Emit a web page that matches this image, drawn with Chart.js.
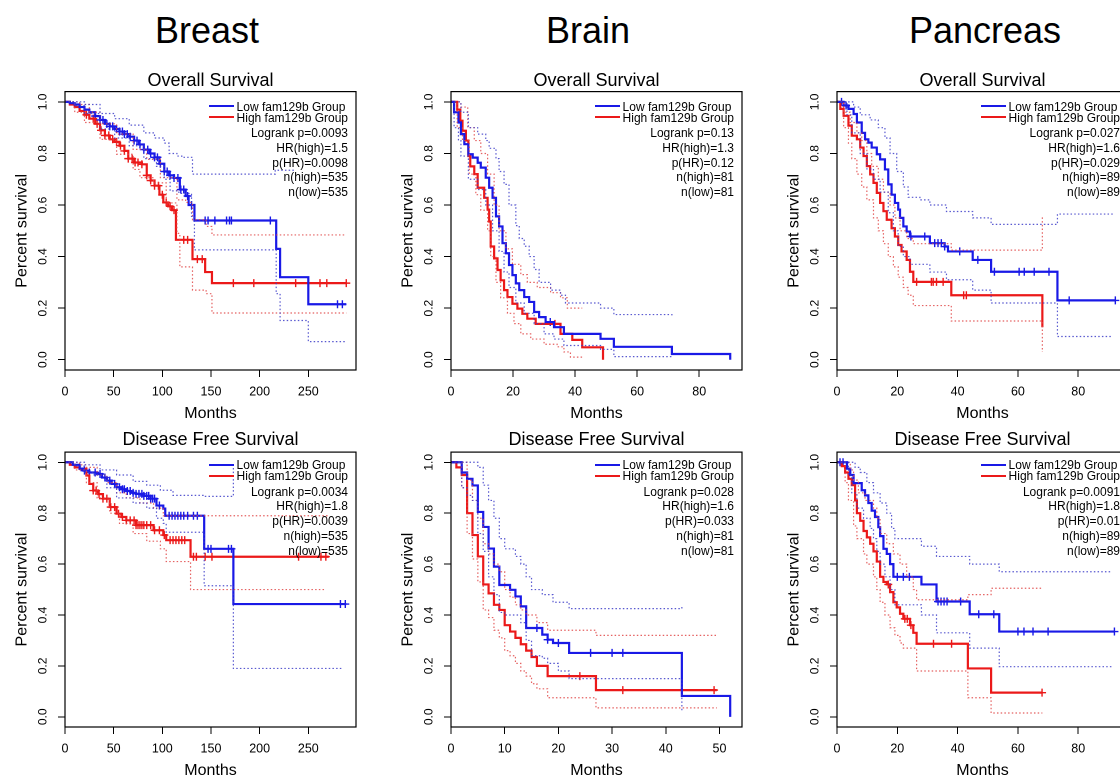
<!DOCTYPE html>
<html>
<head>
<meta charset="utf-8">
<script src="https://cdn.jsdelivr.net/npm/chart.js@4.4.1/dist/chart.umd.min.js"></script>
<style>
html,body{margin:0;padding:0;width:1120px;height:780px;overflow:hidden;background:#fff;}
#stage{position:absolute;left:0;top:0;width:1120px;height:780px;overflow:hidden;font-family:"Liberation Sans",Arial,Helvetica,sans-serif;color:#000;}
.hdr{position:absolute;font-size:36px;line-height:36px;height:36px;white-space:nowrap;transform:translateX(-50%);}
.pnl{position:absolute;}
.pnl canvas{display:block;}
.leg{position:absolute;width:220px;text-align:right;font-size:12px;white-space:nowrap;}
.leg .lg{display:inline-block;text-align:left;}
.leg .lr{height:11px;line-height:11px;}
.leg .sw{display:inline-block;width:25px;height:2px;vertical-align:middle;margin-right:3px;position:relative;top:-1px;}
.leg .st{height:14.75px;line-height:14.75px;}
</style>
</head>
<body>
<div id="stage"></div>
<script>
// ---------------- DATA ----------------
const cancerTypes = ['Breast', 'Brain', 'Pancreas'];
const panelTitles = ['Overall Survival', 'Disease Free Survival'];
const legendLabels = ['Low fam129b Group', 'High fam129b Group'];
const xAxisLabel = 'Months';
const yAxisLabel = 'Percent survival';
const yTicks = [0, 0.2, 0.4, 0.6, 0.8, 1.0];
const breastTicks = [0, 50, 100, 150, 200, 250];
const brainOSTicks = [0, 20, 40, 60, 80];
const brainDFSTicks = [0, 10, 20, 30, 40, 50];
const pancreasTicks = [0, 20, 40, 60, 80];
const xMaxBreast = 299, xMaxBrainOS = 93.8, xMaxBrainDFS = 54.2, xMaxPancreas = 96.5;

const statsBreastOS = ['Logrank p=0.0093', 'HR(high)=1.5', 'p(HR)=0.0098', 'n(high)=535', 'n(low)=535'];
const statsBrainOS = ['Logrank p=0.13', 'HR(high)=1.3', 'p(HR)=0.12', 'n(high)=81', 'n(low)=81'];
const statsPancreasOS = ['Logrank p=0.027', 'HR(high)=1.6', 'p(HR)=0.029', 'n(high)=89', 'n(low)=89'];
const statsBreastDFS = ['Logrank p=0.0034', 'HR(high)=1.8', 'p(HR)=0.0039', 'n(high)=535', 'n(low)=535'];
const statsBrainDFS = ['Logrank p=0.028', 'HR(high)=1.6', 'p(HR)=0.033', 'n(high)=81', 'n(low)=81'];
const statsPancreasDFS = ['Logrank p=0.0091', 'HR(high)=1.8', 'p(HR)=0.01', 'n(high)=89', 'n(low)=89'];

// Breast – overall survival  [month, survival]
const breastOS_low = [[0,1],[5,0.995],[10,0.99],[15,0.98],[20,0.97],[25,0.96],[31,0.945],[36,0.93],[41,0.915],[46,0.905],[51,0.895],[56,0.885],[61,0.875],[66,0.865],[71,0.85],[76,0.835],[81,0.815],[87,0.8],[92,0.785],[97,0.76],[102,0.73],[107,0.715],[112,0.705],[118,0.66],[124,0.635],[127,0.6],[133,0.54],[217,0.43],[221,0.32],[250,0.215],[289,0.215]];
const breastOS_high = [[0,1],[5,0.99],[10,0.98],[15,0.965],[20,0.95],[25,0.935],[31,0.915],[36,0.89],[41,0.87],[46,0.855],[51,0.845],[56,0.83],[61,0.81],[65,0.78],[71,0.765],[79,0.758],[84,0.715],[88,0.695],[92,0.675],[97,0.64],[101,0.61],[106,0.595],[110,0.58],[114,0.465],[131,0.39],[144,0.34],[151,0.297],[289,0.297]];
const breastOS_lowUp = [[0,1],[20,0.99],[36,0.955],[51,0.935],[66,0.91],[81,0.88],[92,0.86],[102,0.84],[107,0.8],[115,0.79],[120,0.785],[131,0.72],[216,0.735],[236,0.735]];
const breastOS_lowDn = [[0,1],[10,0.985],[20,0.955],[36,0.895],[51,0.86],[66,0.83],[81,0.78],[94,0.75],[102,0.7],[108,0.655],[117,0.645],[130,0.556],[133,0.426],[217,0.256],[221,0.152],[250,0.07],[289,0.07]];
const breastOS_highUp = [[0,1],[15,0.99],[25,0.96],[36,0.915],[53,0.875],[70,0.816],[84,0.777],[98,0.706],[115,0.62],[124,0.61],[131,0.543],[145,0.517],[151,0.484],[289,0.484]];
const breastOS_highDn = [[0,1],[10,0.96],[20,0.92],[36,0.855],[53,0.797],[70,0.738],[77,0.706],[91,0.686],[104,0.608],[115,0.49],[118,0.36],[131,0.27],[145,0.256],[151,0.181],[289,0.181]];
const breastOS_lowCens = [31,36,39,43,46,49,53,56,59,61,64,67,71,74,77,81,85,88,92,95,98,102,105,108,112,116,119,122,126,130,144,147,154,166,169,171,211,280,285];
const breastOS_highCens = [22,29,33,37,41,45,49,53,57,61,65,69,72,75,79,84,88,92,96,100,104,108,112,122,126,136,141,173,194,237,262,269,289];

// Breast – disease free survival
const breastDFS_low = [[0,1],[8,0.99],[15,0.975],[19,0.967],[25,0.96],[33,0.954],[38,0.94],[43,0.928],[48,0.915],[53,0.902],[58,0.894],[63,0.887],[68,0.88],[73,0.876],[81,0.868],[88,0.857],[94,0.83],[101,0.818],[103,0.79],[143,0.66],[173,0.443],[289,0.443]];
const breastDFS_high = [[0,1],[5,0.99],[10,0.98],[15,0.974],[22,0.948],[25,0.915],[29,0.889],[34,0.875],[39,0.857],[46,0.824],[53,0.798],[58,0.785],[63,0.772],[73,0.753],[91,0.733],[101,0.714],[104,0.694],[129,0.629],[271,0.629]];
const breastDFS_lowUp = [[0,1],[20,0.99],[36,0.97],[53,0.95],[70,0.925],[84,0.91],[98,0.89],[111,0.87],[143,0.866],[173,1.0]];
const breastDFS_lowDn = [[0,1],[10,0.985],[20,0.96],[30,0.95],[43,0.9],[53,0.86],[70,0.84],[84,0.82],[94,0.78],[101,0.76],[104,0.725],[143,0.515],[173,0.19],[286,0.19]];
const breastDFS_highUp = [[0,1],[15,0.99],[22,0.98],[33,0.95],[43,0.92],[53,0.88],[63,0.86],[77,0.84],[91,0.82],[101,0.79],[270,0.79]];
const breastDFS_highDn = [[0,1],[10,0.97],[22,0.92],[33,0.86],[46,0.8],[56,0.76],[70,0.72],[84,0.69],[98,0.66],[104,0.61],[129,0.5],[267,0.5]];
const breastDFS_lowCens = [20,25,31,36,41,46,51,56,59,61,64,67,70,73,76,79,81,84,86,88,90,92,97,107,110,113,116,119,122,126,132,136,147,150,168,171,283,288];
const breastDFS_highCens = [29,32,35,39,43,47,51,55,59,63,67,71,73,75,77,79,81,84,88,92,97,102,108,111,114,117,120,123,132,135,144,151,240,263,268];

// Brain – overall survival
const brainOS_low = [[0,1],[1,0.96],[2.4,0.92],[3.2,0.875],[4.3,0.836],[5.6,0.797],[7,0.784],[8.6,0.764],[9.6,0.745],[11.2,0.706],[12.3,0.667],[13.4,0.628],[14.5,0.556],[15.5,0.517],[16.6,0.452],[17.7,0.413],[18.7,0.367],[19.8,0.328],[20.9,0.296],[22,0.27],[23.6,0.243],[25.2,0.224],[26.8,0.185],[28.4,0.165],[30.5,0.146],[33.2,0.126],[36.4,0.1],[48.2,0.081],[52.5,0.05],[71.2,0.022],[90,0]];
const brainOS_high = [[0,1],[2,0.97],[3,0.927],[3.7,0.888],[4.8,0.85],[5.6,0.79],[6.2,0.75],[7.5,0.72],[8.6,0.667],[10.7,0.628],[11.8,0.582],[12.3,0.536],[12.8,0.439],[13.9,0.393],[15,0.348],[16,0.308],[17.1,0.27],[18.2,0.243],[19.8,0.217],[21.4,0.198],[23,0.178],[24.6,0.159],[27.3,0.139],[35.3,0.1],[39.1,0.077],[42.3,0.048],[49,0]];
const brainOS_lowUp = [[0,1],[3.2,0.96],[5.6,0.9],[8.6,0.875],[11.2,0.85],[12.3,0.82],[14.5,0.78],[15.5,0.73],[17.1,0.68],[18.7,0.6],[20.9,0.52],[22,0.47],[23.6,0.44],[25.2,0.4],[26.8,0.35],[28.4,0.3],[32.1,0.27],[35.3,0.25],[36.9,0.22],[48.2,0.2],[52.5,0.175],[71.2,0.17]];
const brainOS_lowDn = [[0,1],[1,0.9],[2.4,0.85],[3.2,0.79],[5.6,0.7],[8.6,0.66],[11.2,0.6],[13.4,0.5],[15.5,0.42],[17.1,0.34],[18.7,0.28],[20.9,0.22],[23.6,0.18],[26.8,0.14],[30,0.1],[33.2,0.08],[36.4,0.055],[48.2,0.04],[52.5,0.012],[71.2,0.012]];
const brainOS_highUp = [[0,1],[3.2,0.98],[5.4,0.9],[7.5,0.85],[9.6,0.8],[11.8,0.72],[13.9,0.6],[15.5,0.5],[17.7,0.43],[19.8,0.37],[22.5,0.33],[24.6,0.3],[27.8,0.28],[32.1,0.26],[35.3,0.24],[37.5,0.2],[42.3,0.2]];
const brainOS_highDn = [[0,1],[2,0.9],[3.7,0.85],[5.9,0.72],[8,0.64],[9.6,0.58],[11.8,0.5],[12.8,0.4],[14.5,0.3],[16,0.24],[18.2,0.18],[20.3,0.14],[22.5,0.1],[25.7,0.08],[30,0.06],[34.2,0.05],[36.4,0.03],[38.5,0.01],[42.3,0.01]];
const brainOS_lowCens = [32];
const brainOS_highCens = [33.5];

// Brain – disease free survival
const brainDFS_low = [[0,1],[2,0.96],[3,0.935],[4,0.909],[5,0.805],[6,0.746],[7,0.661],[8,0.59],[9,0.518],[11,0.499],[12,0.473],[13,0.434],[14,0.349],[17,0.323],[18,0.303],[19,0.29],[22,0.251],[43,0.082],[52,0]];
const brainDFS_high = [[0,1],[1,0.98],[2,0.95],[3,0.8],[4,0.714],[5,0.63],[6,0.52],[7,0.485],[8,0.44],[9,0.42],[10,0.36],[11,0.335],[12,0.31],[13,0.285],[14,0.26],[15,0.235],[16,0.2],[18,0.16],[27,0.105],[49.5,0.105]];
const brainDFS_lowUp = [[0,1],[5,0.98],[6,0.91],[7,0.85],[8,0.78],[9,0.7],[10,0.66],[12,0.63],[13,0.6],[14,0.55],[15,0.5],[17,0.48],[19,0.45],[22,0.425],[43,0.44]];
const brainDFS_lowDn = [[0,1],[2,0.9],[3,0.87],[4,0.85],[5,0.72],[6,0.65],[7,0.55],[8,0.48],[9,0.41],[10,0.4],[13,0.37],[14,0.3],[15,0.24],[17,0.23],[18,0.21],[20,0.18],[22,0.15],[43,0.02]];
const brainDFS_highUp = [[0,1],[3,0.93],[4,0.85],[5,0.78],[6,0.68],[7,0.64],[8,0.6],[9,0.57],[10,0.5],[11,0.47],[12,0.44],[13,0.42],[14,0.4],[16,0.37],[18,0.34],[27,0.32],[49.5,0.32]];
const brainDFS_highDn = [[0,1],[2,0.9],[3,0.72],[4,0.62],[5,0.53],[6,0.42],[7,0.39],[8,0.34],[9,0.31],[10,0.26],[11,0.24],[12,0.21],[13,0.18],[14,0.16],[15,0.13],[16,0.11],[18,0.075],[27,0.035],[49.5,0.035]];
const brainDFS_lowCens = [16,18,20,26,30,32];
const brainDFS_highCens = [24,32,49];

// Pancreas – overall survival
const pancreasOS_low = [[0,1],[2.2,0.986],[3.8,0.973],[5.5,0.953],[6.6,0.92],[8.2,0.88],[9.3,0.855],[10.4,0.842],[11.5,0.823],[13.2,0.797],[14.3,0.777],[15.9,0.738],[17,0.68],[18.1,0.64],[19.2,0.608],[20.3,0.582],[20.9,0.55],[22,0.517],[23.1,0.497],[24.2,0.478],[30.8,0.452],[35.7,0.439],[36.8,0.42],[45,0.387],[51.1,0.341],[73.1,0.23],[92.3,0.23]];
const pancreasOS_high = [[0,1],[1.1,0.973],[2.2,0.946],[3.8,0.908],[4.9,0.869],[6.6,0.855],[7.7,0.823],[8.8,0.79],[9.9,0.751],[11,0.719],[12.1,0.686],[13.2,0.647],[14.3,0.608],[15.4,0.576],[16.5,0.543],[18.1,0.51],[19.2,0.478],[20.3,0.445],[21.4,0.42],[23.1,0.387],[24.2,0.341],[25.3,0.302],[37.9,0.25],[68.1,0.126]];
const pancreasOS_lowUp = [[0,1],[5.5,0.98],[7.7,0.95],[11,0.93],[13.7,0.9],[15.9,0.86],[17.6,0.8],[19.8,0.73],[22,0.67],[23.6,0.63],[27.5,0.62],[30.8,0.6],[36.3,0.575],[45,0.55],[51.1,0.525],[73.1,0.565],[92,0.565]];
const pancreasOS_lowDn = [[0,1],[3.3,0.95],[4.9,0.88],[7.7,0.8],[9.9,0.74],[12.1,0.7],[14.3,0.65],[17,0.57],[18.7,0.5],[20.3,0.44],[22,0.4],[24.2,0.37],[30.8,0.34],[36.3,0.31],[45,0.27],[51.1,0.22],[73.1,0.09],[91,0.09]];
const pancreasOS_highUp = [[0,1],[2.2,0.96],[4.4,0.92],[6.6,0.88],[8.2,0.85],[9.9,0.8],[11.5,0.75],[13.7,0.7],[15.4,0.65],[17.6,0.6],[19.2,0.55],[20.9,0.5],[23.1,0.47],[25.3,0.45],[37.9,0.425],[68.1,0.556]];
const pancreasOS_highDn = [[0,1],[2.2,0.9],[3.8,0.84],[4.9,0.78],[6.6,0.72],[8.2,0.67],[9.9,0.62],[12.1,0.55],[13.7,0.5],[15.4,0.45],[17,0.4],[18.7,0.36],[20.3,0.32],[22,0.28],[23.6,0.25],[25.3,0.21],[37.9,0.15],[68.1,0.03]];
const pancreasOS_lowCens = [1.5,3,24.5,29.1,32.4,33.5,34.6,35.7,40.7,46.7,52.2,60.4,62.1,65.4,70.3,77,92.3];
const pancreasOS_highCens = [26.4,31.3,31.9,33,35.2,42,42.9];

// Pancreas – disease free survival
const pancreasDFS_low = [[0,1],[3.3,0.975],[4.4,0.95],[5.5,0.918],[8.2,0.89],[9.3,0.87],[10.4,0.84],[11.5,0.81],[12.6,0.785],[13.7,0.745],[14.3,0.71],[15.4,0.66],[16.5,0.64],[17.6,0.6],[18.7,0.55],[28,0.52],[33,0.453],[44,0.403],[53.8,0.335],[92,0.335]];
const pancreasDFS_high = [[0,1],[1.6,0.985],[2.7,0.96],[3.8,0.935],[4.9,0.91],[6,0.85],[6.6,0.8],[7.7,0.77],[8.8,0.73],[9.9,0.705],[11,0.68],[12.1,0.65],[13.2,0.61],[14.3,0.55],[15.4,0.53],[16.5,0.52],[17.6,0.49],[18.7,0.45],[19.8,0.43],[20.9,0.405],[22,0.385],[24.2,0.36],[25.3,0.33],[26.4,0.287],[43.4,0.19],[51.1,0.095],[68.1,0.095]];
const pancreasDFS_lowUp = [[0,1],[6,0.98],[7.7,0.96],[9.9,0.92],[12.1,0.88],[14.3,0.84],[16.5,0.8],[18.1,0.74],[19.2,0.7],[28,0.67],[33,0.63],[44,0.6],[53.8,0.57],[91,0.57]];
const pancreasDFS_lowDn = [[0,1],[3.8,0.95],[4.9,0.88],[6.6,0.82],[8.8,0.78],[11,0.74],[12.1,0.7],[13.2,0.65],[14.3,0.6],[15.9,0.55],[17.6,0.5],[19.2,0.44],[28,0.4],[33,0.33],[44,0.27],[53.8,0.197],[91,0.197]];
const pancreasDFS_highUp = [[0,1],[4.4,0.97],[5.5,0.93],[7.1,0.88],[9.3,0.85],[12.1,0.82],[13.2,0.78],[14.3,0.72],[16.5,0.68],[18.7,0.64],[20.9,0.6],[23.1,0.55],[25.3,0.5],[26.4,0.46],[43.4,0.48],[51.1,0.505],[68.1,0.505]];
const pancreasDFS_highDn = [[0,1],[2.7,0.92],[3.8,0.85],[5.5,0.75],[6.6,0.7],[8.8,0.64],[9.9,0.6],[12.1,0.55],[13.2,0.5],[14.3,0.45],[15.9,0.4],[17.6,0.35],[19.2,0.32],[20.9,0.29],[22,0.27],[26.4,0.18],[43.4,0.075],[51.1,0.015],[68.1,0.015]];
const pancreasDFS_lowCens = [1,2,20,22,24,33.5,34.5,35.5,36.5,41,47,52,60,62,65,70,92];
const pancreasDFS_highCens = [17,22.5,23.3,24.5,32,38,68];

// ---------------- LAYOUT / STYLE ----------------
const FONT = '"Liberation Sans", Arial, Helvetica, sans-serif';
const BLUE = 'rgb(25,25,230)', RED = 'rgb(235,25,25)';
const BLUE_CI = 'rgba(60,60,200,0.85)', RED_CI = 'rgba(225,70,70,0.85)';
const COL_LEFT = [65, 451, 837];
const HDR_X = [207, 588, 985];
const ROW_TOP = [92, 452];
const ROW_H = [278, 275];
const BOX_W = 291, Y_W = 65, X_H = 55, PAD_R = 8, PAD_T = 10, TITLE_H = 21.6;

const panels = [
  {r:0,c:0,xt:breastTicks,xmax:xMaxBreast,low:breastOS_low,high:breastOS_high,lu:breastOS_lowUp,ld:breastOS_lowDn,hu:breastOS_highUp,hd:breastOS_highDn,lc:breastOS_lowCens,hc:breastOS_highCens,stats:statsBreastOS},
  {r:0,c:1,xt:brainOSTicks,xmax:xMaxBrainOS,low:brainOS_low,high:brainOS_high,lu:brainOS_lowUp,ld:brainOS_lowDn,hu:brainOS_highUp,hd:brainOS_highDn,lc:brainOS_lowCens,hc:brainOS_highCens,stats:statsBrainOS},
  {r:0,c:2,xt:pancreasTicks,xmax:xMaxPancreas,low:pancreasOS_low,high:pancreasOS_high,lu:pancreasOS_lowUp,ld:pancreasOS_lowDn,hu:pancreasOS_highUp,hd:pancreasOS_highDn,lc:pancreasOS_lowCens,hc:pancreasOS_highCens,stats:statsPancreasOS},
  {r:1,c:0,xt:breastTicks,xmax:xMaxBreast,low:breastDFS_low,high:breastDFS_high,lu:breastDFS_lowUp,ld:breastDFS_lowDn,hu:breastDFS_highUp,hd:breastDFS_highDn,lc:breastDFS_lowCens,hc:breastDFS_highCens,stats:statsBreastDFS},
  {r:1,c:1,xt:brainDFSTicks,xmax:xMaxBrainDFS,low:brainDFS_low,high:brainDFS_high,lu:brainDFS_lowUp,ld:brainDFS_lowDn,hu:brainDFS_highUp,hd:brainDFS_highDn,lc:brainDFS_lowCens,hc:brainDFS_highCens,stats:statsBrainDFS},
  {r:1,c:2,xt:pancreasTicks,xmax:xMaxPancreas,low:pancreasDFS_low,high:pancreasDFS_high,lu:pancreasDFS_lowUp,ld:pancreasDFS_lowDn,hu:pancreasDFS_highUp,hd:pancreasDFS_highDn,lc:pancreasDFS_lowCens,hc:pancreasDFS_highCens,stats:statsPancreasDFS}
];

function survAt(curve, t) {
  let s = curve[0][1];
  for (const p of curve) { if (p[0] <= t) s = p[1]; else break; }
  return s;
}
function toXY(arr) { return arr.map(p => ({x: p[0], y: p[1]})); }
function stepDs(arr, color, dotted) {
  return {data: toXY(arr), borderColor: color, backgroundColor: color, borderWidth: dotted ? 1.2 : 2.2,
    borderDash: dotted ? [1.5, 2.2] : [], stepped: true, showLine: true, pointRadius: 0, fill: false};
}
function censDs(times, curve, color) {
  return {data: times.map(t => ({x: t, y: survAt(curve, t)})), showLine: false, pointStyle: 'cross',
    pointRadius: 4, pointBorderWidth: 1.4, borderColor: color, backgroundColor: color};
}

const boxPlugin = {
  id: 'rbox',
  afterDraw(chart) {
    const a = chart.chartArea, ctx = chart.ctx;
    ctx.save(); ctx.strokeStyle = '#000'; ctx.lineWidth = 1.2;
    ctx.strokeRect(a.left, a.top, a.right - a.left, a.bottom - a.top);
    ctx.restore();
  }
};

const stage = document.getElementById('stage');
cancerTypes.forEach((name, i) => {
  const d = document.createElement('div');
  d.className = 'hdr'; d.textContent = name;
  d.style.left = HDR_X[i] + 'px'; d.style.top = '13px';
  stage.appendChild(d);
});

panels.forEach(p => {
  const boxL = COL_LEFT[p.c], boxT = ROW_TOP[p.r], boxH = ROW_H[p.r];
  const titlePadB = p.r === 0 ? 0 : 1.5;
  const cw = Y_W + BOX_W + PAD_R;
  const topOff = PAD_T + TITLE_H + titlePadB;
  const ch = Math.round(topOff + boxH + X_H);
  const wrap = document.createElement('div');
  wrap.className = 'pnl';
  wrap.style.left = (boxL - Y_W) + 'px';
  wrap.style.top = (boxT - topOff) + 'px';
  const cv = document.createElement('canvas');
  cv.width = cw; cv.height = ch;
  cv.style.width = cw + 'px'; cv.style.height = ch + 'px';
  wrap.appendChild(cv); stage.appendChild(wrap);

  new Chart(cv.getContext('2d'), {
    type: 'scatter',
    data: {datasets: [
      stepDs(p.lu, BLUE_CI, true), stepDs(p.ld, BLUE_CI, true),
      stepDs(p.hu, RED_CI, true), stepDs(p.hd, RED_CI, true),
      stepDs(p.low, BLUE, false), stepDs(p.high, RED, false),
      censDs(p.lc, p.low, BLUE), censDs(p.hc, p.high, RED)
    ]},
    options: {
      responsive: false, animation: false, devicePixelRatio: 2,
      layout: {padding: {top: PAD_T, right: PAD_R, left: 0, bottom: 0}},
      plugins: {
        legend: {display: false}, tooltip: {enabled: false},
        title: {display: true, fullSize: false, text: panelTitles[p.r], color: '#000',
          font: {family: FONT, size: 18, weight: 'normal', lineHeight: 1.2}, padding: {top: 0, bottom: titlePadB}}
      },
      scales: {
        x: {
          type: 'linear', min: 0, max: p.xmax,
          afterBuildTicks: s => { s.ticks = p.xt.map(v => ({value: v})); },
          afterFit: s => { s.height = X_H; },
          ticks: {color: '#000', font: {family: FONT, size: 12.5}, padding: 7.5, maxRotation: 0, autoSkip: false,
            callback: v => String(v)},
          grid: {display: true, drawOnChartArea: false, drawTicks: true, tickLength: 7, color: '#000', lineWidth: 1},
          border: {display: true, color: '#000', width: 1},
          title: {display: true, text: xAxisLabel, color: '#000', font: {family: FONT, size: 16, lineHeight: 1.2},
            padding: {top: 0, bottom: 2}}
        },
        y: {
          type: 'linear', min: -0.04, max: 1.04,
          afterBuildTicks: s => { s.ticks = yTicks.map(v => ({value: v})); },
          afterFit: s => { s.width = Y_W; },
          ticks: {color: '#000', font: {family: FONT, size: 12}, padding: 6.4, minRotation: 90, maxRotation: 90,
            crossAlign: 'center', autoSkip: false, callback: v => Number(v).toFixed(1)},
          grid: {display: true, drawOnChartArea: false, drawTicks: true, tickLength: 7, color: '#000', lineWidth: 1},
          border: {display: true, color: '#000', width: 1},
          title: {display: true, text: yAxisLabel, color: '#000', font: {family: FONT, size: 16, lineHeight: 1.2},
            padding: {top: 12.5, bottom: 0}}
        }
      }
    },
    plugins: [boxPlugin]
  });

  // legend + statistics (inside plot, top-right)
  const leg = document.createElement('div');
  leg.className = 'leg';
  const rightEdge = boxL + BOX_W - 8;
  leg.style.left = (rightEdge - 220) + 'px';
  leg.style.top = (boxT + (p.r === 0 ? 9.5 : 8)) + 'px';
  let html = '<div class="lg">';
  html += '<div class="lr"><span class="sw" style="background:' + BLUE + '"></span>' + legendLabels[0] + '</div>';
  html += '<div class="lr"><span class="sw" style="background:' + RED + '"></span>' + legendLabels[1] + '</div>';
  html += '</div>';
  p.stats.forEach((s, i) => {
    html += '<div class="st"' + (i === 0 ? ' style="margin-top:1.5px"' : '') + '>' + s + '</div>';
  });
  leg.innerHTML = html;
  stage.appendChild(leg);
});
</script>
</body>
</html>
